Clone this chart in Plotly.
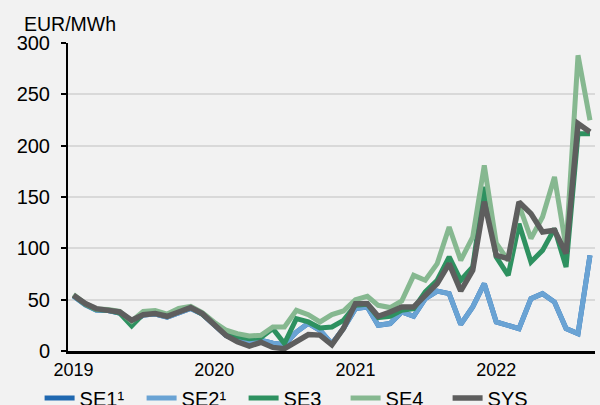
import plotly.graph_objects as go
import pandas as pd

months = pd.date_range("2019-01-01", "2022-09-01", freq="MS").strftime("%Y-%m-%d").tolist()

sys_price = [54.3, 46.2, 41.3, 40.3, 38.0, 29.9, 35.4, 36.4, 33.8, 38.0, 42.3, 36.4,
             25.5, 15.0, 9.0, 4.8, 8.5, 3.5, 2.3, 9.0, 16.0, 15.5, 6.0, 22.0,
             46.1, 46.1, 33.8, 38.0, 42.9, 42.9, 54.3, 65.6, 85.1, 58.5, 78.6, 145.5,
             93.2, 90.0, 145.1, 133.8, 115.9, 117.6, 94.9, 221.5, 213.3]

se3 = [54.3, 45.5, 40.5, 39.8, 37.0, 24.5, 36.0, 37.0, 34.0, 39.0, 42.5, 36.0,
       26.5, 17.0, 14.0, 12.0, 13.0, 21.8, 7.2, 31.5, 28.3, 22.4, 23.4, 29.9,
       44.5, 45.5, 32.5, 33.8, 39.6, 41.3, 57.5, 68.9, 91.6, 68.9, 81.8, 159.8,
       91.6, 73.7, 124.0, 86.7, 98.0, 119.2, 81.8, 211.7, 211.7]

se4 = [55.0, 46.0, 41.0, 40.5, 38.5, 29.0, 38.5, 39.5, 36.0, 41.5, 43.5, 37.5,
       28.0, 20.2, 16.9, 14.6, 15.3, 23.4, 23.4, 39.6, 35.4, 28.3, 35.4, 39.0,
       50.0, 53.3, 44.5, 42.3, 48.7, 73.7, 68.9, 85.1, 120.8, 88.3, 111.0, 180.9,
       105.0, 88.0, 142.0, 109.6, 130.6, 169.5, 101.0, 288.0, 224.7]

se2 = [53.5, 45.0, 40.0, 39.5, 37.0, 28.0, 35.0, 36.0, 33.0, 37.5, 41.5, 36.0,
       25.0, 15.0, 10.5, 8.0, 10.4, 7.5, 6.2, 18.5, 27.0, 20.2, 7.0, 22.0,
       41.3, 42.9, 25.0, 26.7, 38.0, 33.8, 51.0, 58.4, 55.9, 26.0, 42.9, 65.6,
       28.3, 25.0, 21.8, 51.0, 55.9, 47.7, 21.8, 16.9, 93.2]

se1 = [53.5, 45.0, 40.0, 39.5, 37.0, 28.0, 35.0, 36.0, 33.0, 37.5, 41.5, 36.0,
       25.0, 15.0, 10.5, 8.0, 10.4, 7.5, 6.2, 18.5, 27.0, 20.2, 7.0, 22.0,
       41.3, 42.9, 25.0, 26.7, 38.0, 33.8, 51.0, 58.4, 55.9, 26.0, 42.9, 65.6,
       28.3, 25.0, 21.8, 51.0, 55.9, 47.7, 21.8, 16.9, 93.2]

series_names = ["SE1\u00b9", "SE2\u00b9", "SE3", "SE4", "SYS"]
series_values = [se1, se2, se3, se4, sys_price]
series_colors = ["#2068b0", "#6aa3d4", "#2e9160", "#86b890", "#5e5e5e"]

y_ticks = [0, 50, 100, 150, 200, 250, 300]

FONT = "Arial, Liberation Sans, sans-serif"

fig = go.Figure()
for name, vals, col in zip(series_names, series_values, series_colors):
    fig.add_trace(go.Scatter(
        x=months, y=vals, mode="lines", name=name,
        line=dict(color=col, width=5.5 if name == "SYS" else 5),
    ))

fig.update_layout(
    width=600, height=405,
    paper_bgcolor="#f2f2f2", plot_bgcolor="#f2f2f2",
    margin=dict(l=68, r=5, t=43, b=54, autoexpand=False),
    font=dict(family=FONT, size=18, color="#000000"),
    showlegend=True,
    legend=dict(
        orientation="h", xref="container", yref="container",
        x=0.066, xanchor="left", y=0.017, yanchor="middle",
        font=dict(family=FONT, size=20, color="#000000"),
        bgcolor="rgba(0,0,0,0)", itemwidth=30, tracegroupgap=0,
        entrywidth=57,
    ),
    annotations=[dict(
        text="EUR/MWh", xref="paper", yref="paper", x=-0.087, y=1.062,
        xanchor="left", yanchor="middle", showarrow=False,
        font=dict(family=FONT, size=19.5, color="#000000"),
    )],
)

fig.update_xaxes(
    type="date", range=["2018-12-18", "2022-09-14"],
    dtick="M12", tick0="2019-01-01", tickformat="%Y",
    showgrid=False, showline=True, linecolor="#000000", linewidth=3,
    ticks="", zeroline=False, automargin=False,
    tickfont=dict(family=FONT, size=18, color="#000000"),
)

fig.update_yaxes(
    range=[0, 300], tickvals=y_ticks,
    showgrid=True, gridcolor="#d9d9d9", gridwidth=1.5,
    showline=True, linecolor="#000000", linewidth=2,
    ticks="outside", ticklen=5, tickcolor="#000000", tickwidth=2,
    zeroline=False, ticklabelstandoff=7, automargin=False,
    tickfont=dict(family=FONT, size=20, color="#000000"),
)

fig.write_html(
    "out.html",
    config={"displayModeBar": False},
    post_script="document.body.style.margin='0';document.body.style.overflow='hidden';",
)
